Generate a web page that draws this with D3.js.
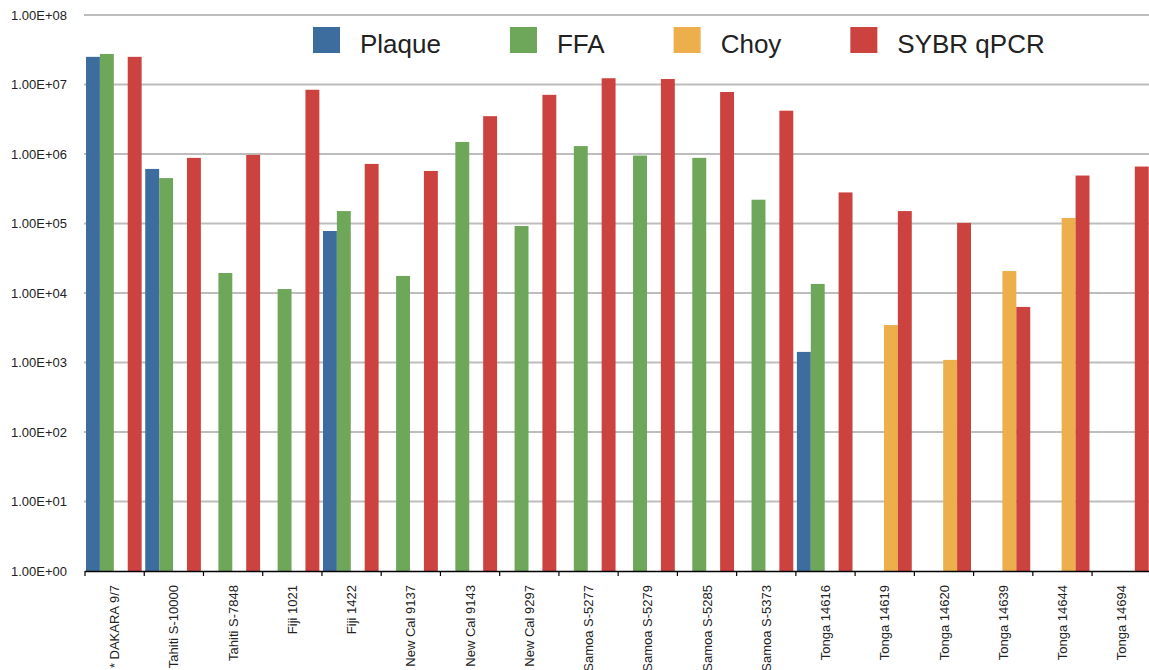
<!DOCTYPE html>
<html>
<head>
<meta charset="utf-8">
<script src="https://cdn.jsdelivr.net/npm/d3@7"></script>
<style>
body { margin: 0; background: #fff; }
svg { display: block; font-family: "Liberation Sans", Arial, sans-serif; }
.grid line { stroke: #bdbdbd; stroke-width: 2; }
.axis text { fill: #222; font-size: 13px; }
</style>
</head>
<body>
<div id="chart"></div>
<script>
var width = 1149;
var height = 670;

var categories = ["* DAKARA 9/7", "Tahiti S-10000", "Tahiti S-7848", "Fiji 1021", "Fiji 1422",
  "New Cal 9137", "New Cal 9143", "New Cal 9297", "Samoa S-5277", "Samoa S-5279",
  "Samoa S-5285", "Samoa S-5373", "Tonga 14616", "Tonga 14619", "Tonga 14620",
  "Tonga 14639", "Tonga 14644", "Tonga 14694"];

var seriesNames = ["Plaque", "FFA", "Choy", "SYBR qPCR"];
var seriesColors = ["#3d6c9e", "#6ea65a", "#edaf4c", "#cc423e"];

// null = no measurement
var plaque = [2.5e7, 6.1e5, null, null, 7.8e4, null, null, null, null, null, null, null, 1.42e3, null, null, null, null, null];
var ffa = [2.75e7, 4.5e5, 1.94e4, 1.14e4, 1.51e5, 1.76e4, 1.49e6, 9.2e4, 1.3e6, 9.5e5, 8.8e5, 2.2e5, 1.35e4, null, null, null, null, null];
var choy = [null, null, null, null, null, null, null, null, null, null, null, null, null, 3.46e3, 1.09e3, 2.07e4, 1.2e5, null];
var sybr = [2.5e7, 8.8e5, 9.7e5, 8.4e6, 7.2e5, 5.7e5, 3.5e6, 7.1e6, 1.23e7, 1.2e7, 7.8e6, 4.2e6, 2.8e5, 1.51e5, 1.02e5, 6.3e3, 4.9e5, 6.6e5];

var yTicks = [1e0, 1e1, 1e2, 1e3, 1e4, 1e5, 1e6, 1e7, 1e8];
var yTickLabels = ["1.00E+00", "1.00E+01", "1.00E+02", "1.00E+03", "1.00E+04", "1.00E+05", "1.00E+06", "1.00E+07", "1.00E+08"];

var allSeries = [plaque, ffa, choy, sybr];

function drawChart() {
  var left = 85, plotTop = 15, bottom = 571;
  var bandW = 59.24;

  var x0 = d3.scaleBand()
    .domain(categories)
    .range([left, left + bandW * categories.length])
    .padding(0);

  var x1 = d3.scaleBand()
    .domain(seriesNames)
    .range([1, x0.bandwidth() - 2.6])
    .padding(0);

  var y = d3.scaleLog()
    .domain([1, 1e8])
    .range([bottom, plotTop]);

  var svg = d3.select("#chart")
    .append("svg")
    .attr("width", width)
    .attr("height", height);

  // gridlines
  svg.append("g")
    .attr("class", "grid")
    .selectAll("line")
    .data(yTicks.slice(1))
    .enter()
    .append("line")
    .attr("x1", left - 1)
    .attr("x2", width)
    .attr("y1", function(d) { return y(d); })
    .attr("y2", function(d) { return y(d); });

  // y labels
  var yAxis = d3.axisLeft(y)
    .tickValues(yTicks)
    .tickFormat(function(d, i) { return yTickLabels[i]; })
    .tickSize(0)
    .tickPadding(18);

  var gy = svg.append("g")
    .attr("class", "axis")
    .attr("transform", "translate(" + left + ",0)")
    .call(yAxis);
  gy.select(".domain").remove();

  // bars
  var groups = svg.append("g")
    .selectAll("g")
    .data(categories)
    .enter()
    .append("g")
    .attr("transform", function(d) { return "translate(" + x0(d) + ",0)"; });

  groups.selectAll("rect")
    .data(function(d, i) {
      return seriesNames.map(function(s, j) {
        return { key: s, value: allSeries[j][i], color: seriesColors[j] };
      }).filter(function(e) { return e.value != null; });
    })
    .enter()
    .append("rect")
    .attr("x", function(d) { return x1(d.key); })
    .attr("width", x1.bandwidth())
    .attr("y", function(d) { return y(d.value); })
    .attr("height", function(d) { return bottom - y(d.value); })
    .attr("fill", function(d) { return d.color; });

  // x axis
  var xAxis = d3.axisBottom(x0)
    .tickSize(0)
    .tickPadding(0);

  var gx = svg.append("g")
    .attr("class", "axis")
    .attr("transform", "translate(0," + bottom + ")")
    .call(xAxis);

  gx.select(".domain")
    .attr("d", "M" + left + ",0.5H" + width)
    .attr("stroke", "#000")
    .attr("stroke-width", 1.5);

  gx.selectAll(".tick text")
    .attr("transform", "rotate(-90)")
    .attr("x", -14)
    .attr("y", 0)
    .attr("dy", "0.35em")
    .style("text-anchor", "end");

  // tick marks at band boundaries
  gx.selectAll(".sep")
    .data(categories)
    .enter()
    .append("line")
    .attr("x1", function(d) { return x0(d); })
    .attr("x2", function(d) { return x0(d); })
    .attr("y1", 0)
    .attr("y2", 5)
    .attr("stroke", "#000")
    .attr("stroke-width", 1.2);

  // legend
  var legend = svg.append("g");
  var lx = 313;
  seriesNames.forEach(function(name, i) {
    legend.append("rect")
      .attr("x", lx)
      .attr("y", 27)
      .attr("width", 27)
      .attr("height", 26)
      .attr("fill", seriesColors[i]);
    var t = legend.append("text")
      .attr("x", lx + 47)
      .attr("y", 53)
      .attr("fill", "#222")
      .style("font-size", "26px")
      .text(name);
    lx += 47 + t.node().getComputedTextLength() + 69;
  });
}

drawChart();
</script>
</body>
</html>
